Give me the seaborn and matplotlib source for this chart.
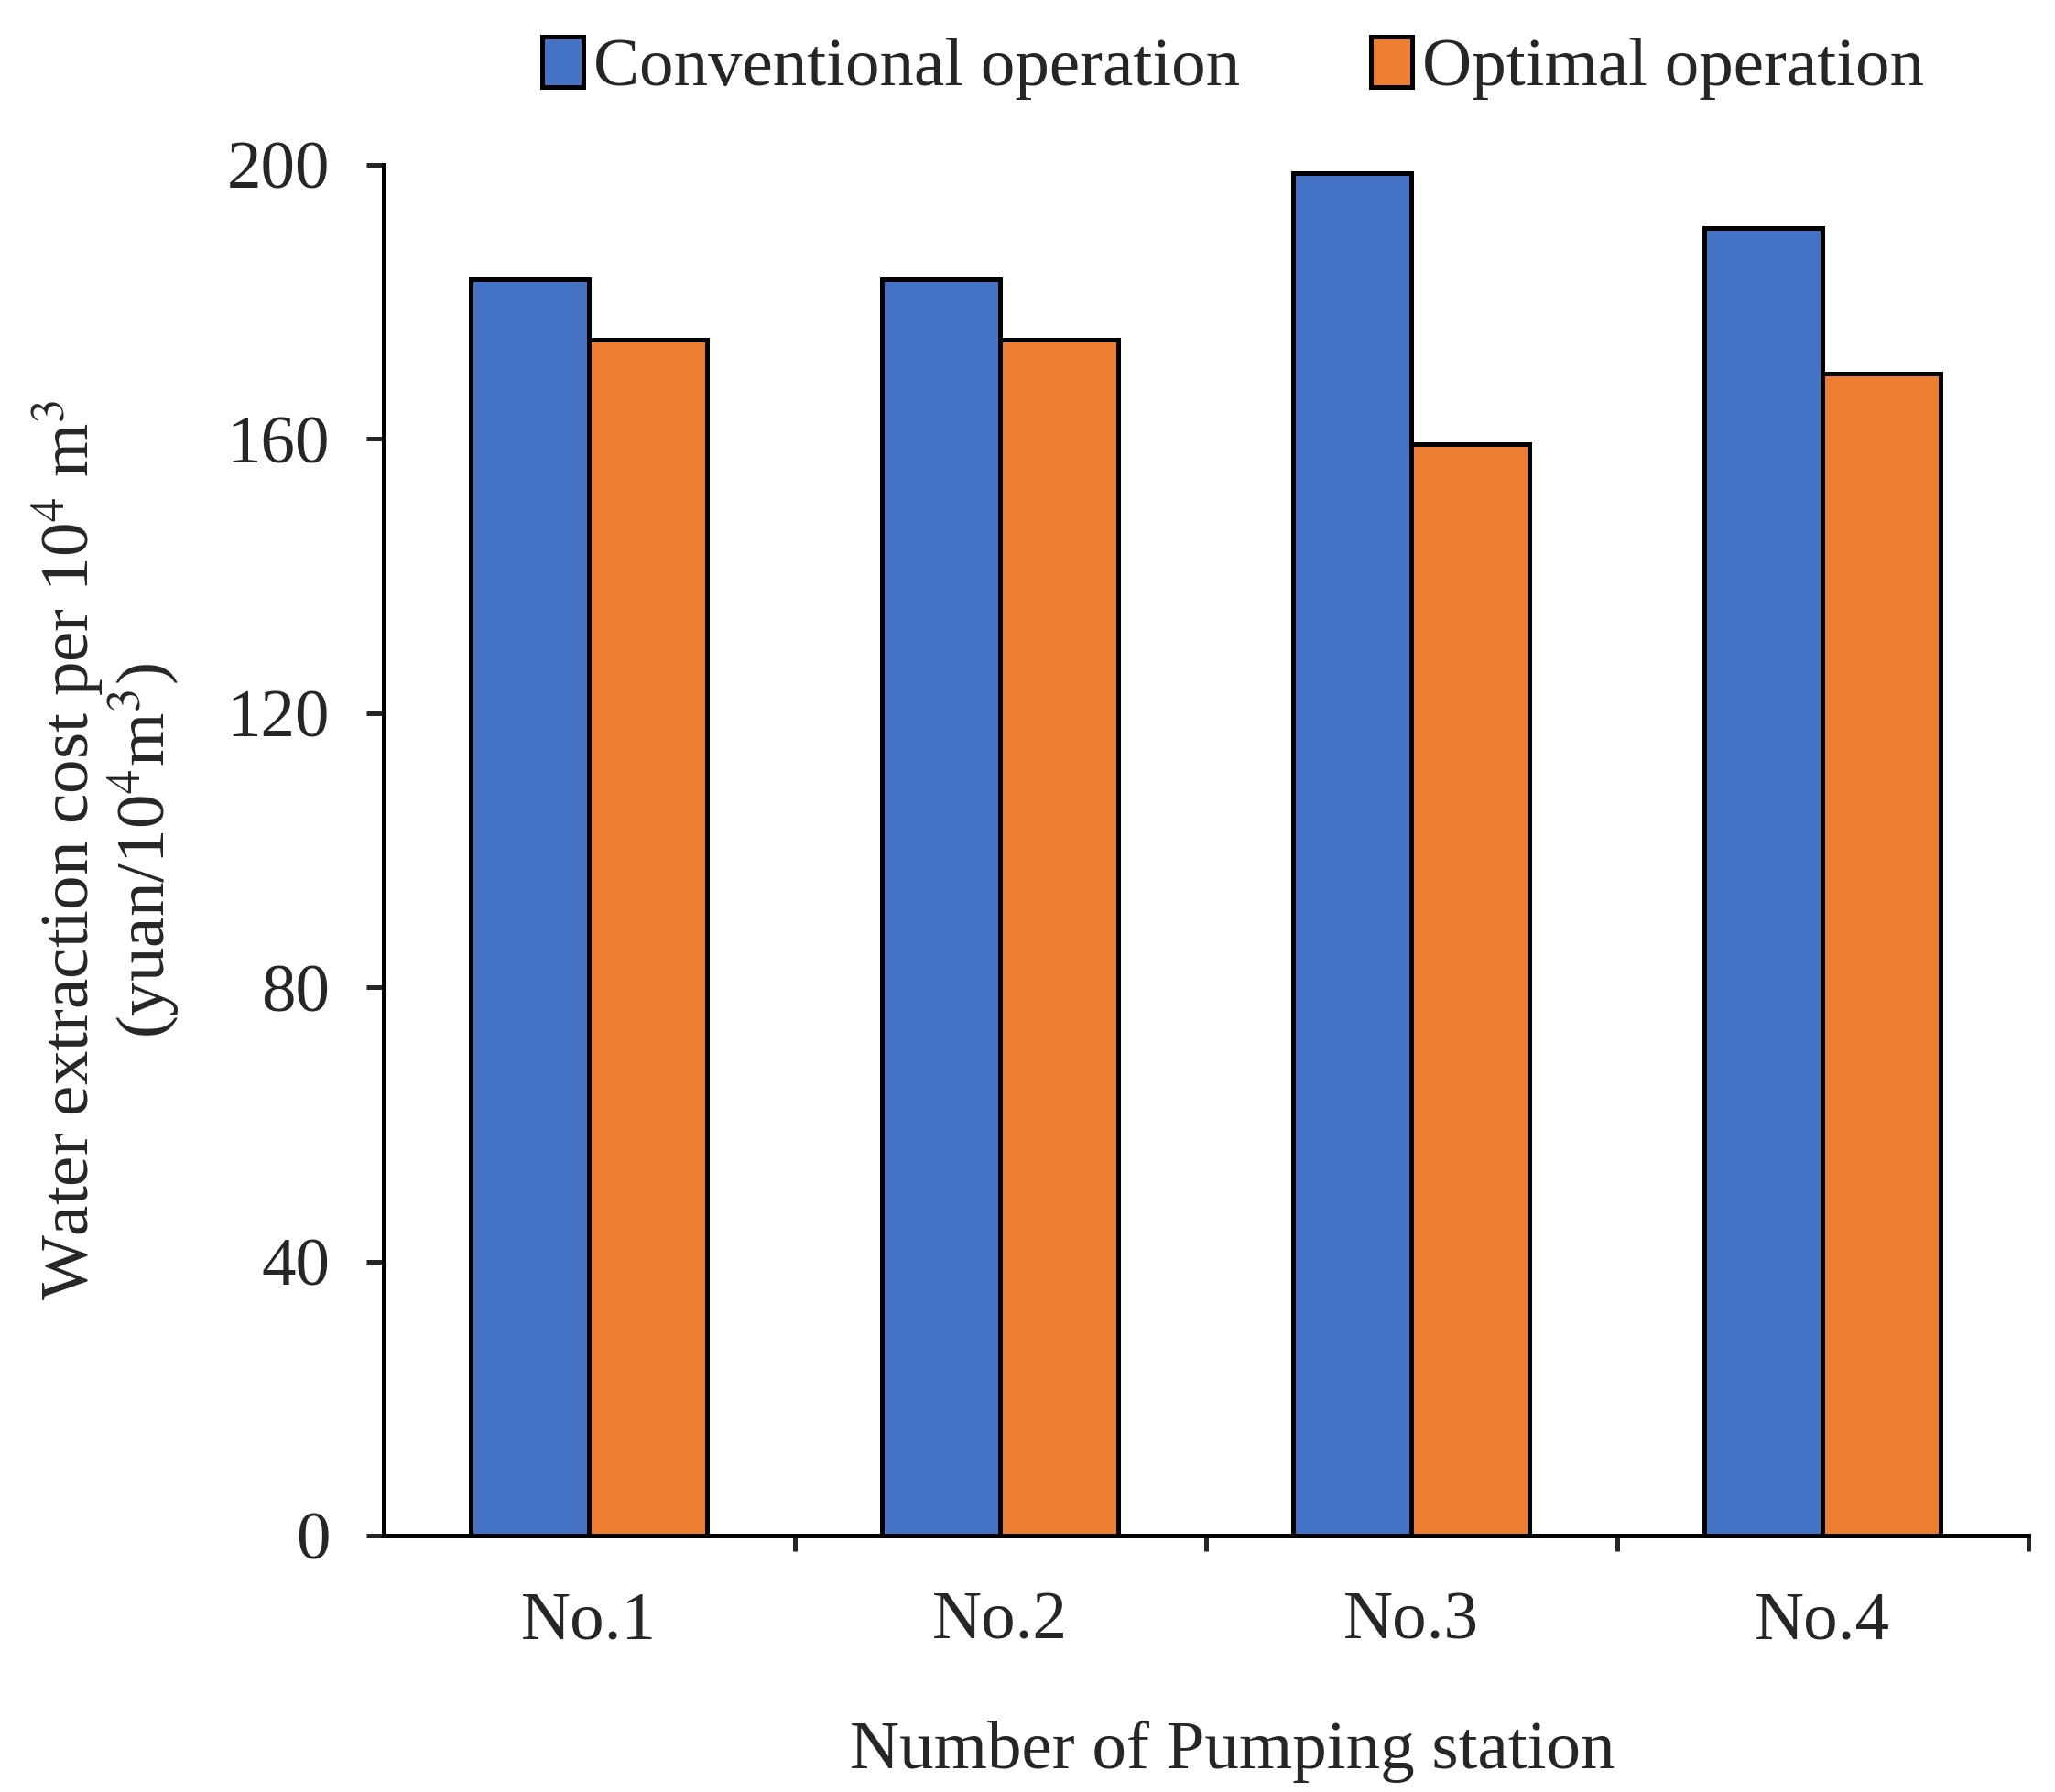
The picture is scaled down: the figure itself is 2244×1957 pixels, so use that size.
import pandas as pd
import numpy as np
import seaborn as sns
import matplotlib.pyplot as plt
from matplotlib.ticker import FixedLocator

# values
stations = ["No.1", "No.2", "No.3", "No.4"]
conventional = [183.3, 183.3, 198.8, 190.8]
optimal = [174.5, 174.5, 159.2, 169.5]
series_names = ["Conventional operation", "Optimal operation"]
y_ticks = [0, 40, 80, 120, 160, 200]

df = pd.DataFrame({
    "station": stations * 2,
    "cost": conventional + optimal,
    "series": [series_names[0]] * 4 + [series_names[1]] * 4,
})

sns.set_style("white")
plt.rcParams['font.family'] = ['Liberation Serif', 'DejaVu Serif']
plt.rcParams['mathtext.fontset'] = 'stix'

fig = plt.figure(figsize=(11.22, 9.785), dpi=200)
ax = fig.add_axes([0.1865, 0.143, 0.8005, 0.765])

sns.barplot(data=df, x="station", y="cost", hue="series",
            palette=["#4472C4", "#ED7D31"], edgecolor="black", linewidth=1.8,
            width=0.575, saturation=1, ax=ax)

ax.set_xlim(-0.5, 3.5)
ax.set_ylim(0, 200)
ax.set_yticks(y_ticks)
ax.set_yticklabels([str(t) for t in y_ticks], fontsize=27)
ax.tick_params(axis='y', direction='out', length=7, width=1.8, pad=14, left=True)
ax.set_xticks(range(4))
ax.set_xticklabels(stations, fontsize=27)
ax.tick_params(axis='x', which='major', length=0, pad=22)
ax.xaxis.set_minor_locator(FixedLocator([0.5, 1.5, 2.5, 3.5]))
ax.tick_params(axis='x', which='minor', direction='out', length=6, width=1.8, bottom=True)

for s in ['top', 'right']:
    ax.spines[s].set_visible(False)
for s in ['left', 'bottom']:
    ax.spines[s].set_linewidth(1.8)
    ax.spines[s].set_color('black')

ax.set_xlabel("Number of Pumping station", fontsize=27, labelpad=24)
ax.xaxis.set_label_coords(0.516, -0.135)
ax.set_ylabel("Water extraction cost per 10$^4$ m$^3$\n(yuan/10$^4$m$^3$)",
              fontsize=27, labelpad=18, linespacing=1.0)

ax.legend(loc='upper center', bbox_to_anchor=(0.6, 0.995), bbox_transform=fig.transFigure,
          ncol=2, frameon=False, fontsize=27, handlelength=0.6, handleheight=0.75,
          handletextpad=0.15, columnspacing=1.9, borderaxespad=0)

fig.savefig("out.png", dpi=200)
